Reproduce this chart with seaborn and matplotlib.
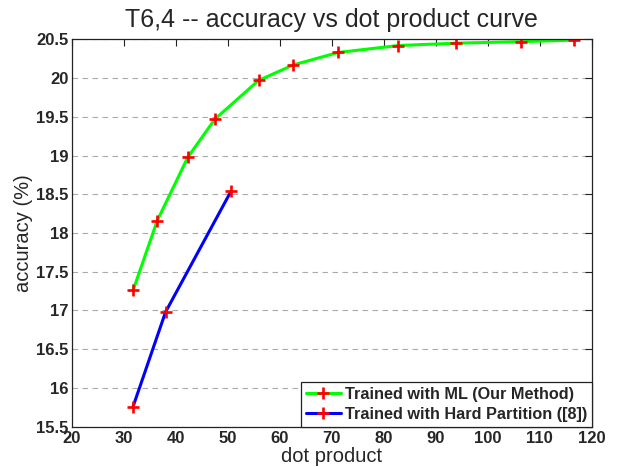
import matplotlib
matplotlib.use("Agg")
import matplotlib.pyplot as plt
import seaborn as sns
import pandas as pd

ml_x = [31.8, 36.4, 42.3, 47.5, 55.9, 62.6, 71.2, 82.8, 93.8, 106.4, 116.6]
ml_y = [17.27, 18.16, 18.98, 19.47, 19.97, 20.17, 20.33, 20.42, 20.45, 20.47, 20.49]
hp_x = [31.7, 38.0, 50.6]
hp_y = [15.75, 16.98, 18.54]
ml_label = "Trained with ML (Our Method)"
hp_label = "Trained with Hard Partition ([8])"
title = "T6,4 -- accuracy vs dot product curve"
xlabel = "dot product"
ylabel = "accuracy (%)"
xticks = list(range(20, 121, 10))
yticks = [15.5, 16, 16.5, 17, 17.5, 18, 18.5, 19, 19.5, 20, 20.5]

sns.set_style("white")
plt.rcParams['font.family'] = ['Liberation Sans', 'DejaVu Sans']

fig = plt.figure(figsize=(6.18, 4.67), dpi=100)
ax = fig.add_axes([0.1165, 0.0863, 0.841, 0.8295])

df_ml = pd.DataFrame({"x": ml_x, "y": ml_y})
df_hp = pd.DataFrame({"x": hp_x, "y": hp_y})
common = dict(marker='+', markersize=9, markeredgecolor='red', markeredgewidth=1.9,
              linewidth=2.2, sort=False, estimator=None)
sns.lineplot(data=df_ml, x="x", y="y", ax=ax, color='#00ff00', label=ml_label, **common)
sns.lineplot(data=df_hp, x="x", y="y", ax=ax, color='#0000ff', label=hp_label, **common)

ax.set_xlim(20, 120)
ax.set_ylim(15.5, 20.5)
ax.set_xticks(xticks)
ax.set_yticks(yticks)
ax.set_xticklabels([str(t) for t in xticks], fontweight='bold', fontsize=12)
ax.set_yticklabels([f"{t:g}" for t in yticks], fontweight='bold', fontsize=12)
ax.tick_params(axis='both', direction='in', length=5, top=True, right=True,
               color='#222222', width=0.8)
ax.tick_params(axis='y', pad=2.5)
ax.tick_params(axis='x', pad=3)
for s in ax.spines.values():
    s.set_color('#222222')
    s.set_linewidth(0.9)
ax.yaxis.grid(True, linestyle=(0, (5, 4)), color='#aaaaaa', linewidth=0.8)
ax.xaxis.grid(False)
ax.set_axisbelow(True)

ax.set_title(title, fontsize=18, pad=9)
ax.set_xlabel(xlabel, fontsize=14.5, labelpad=1)
ax.set_ylabel(ylabel, fontsize=14.5, labelpad=2)

leg = ax.legend(loc='lower right', borderaxespad=0, fancybox=False, framealpha=1,
                edgecolor='#222222', prop={'weight': 'bold', 'size': 11.7},
                handlelength=2.2, handletextpad=0.2, borderpad=0.3, labelspacing=0.3)
leg.get_frame().set_linewidth(0.9)

fig.savefig("out.png", dpi=100)
